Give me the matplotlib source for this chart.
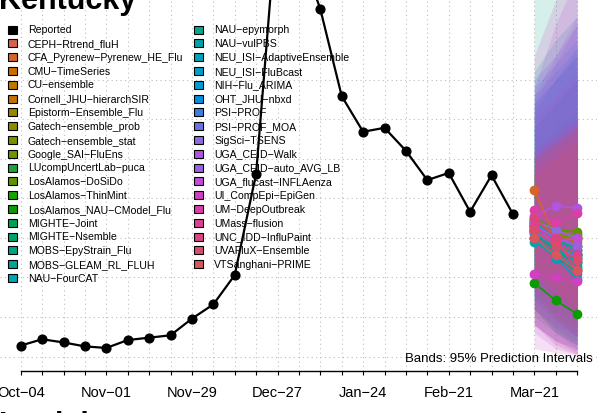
import matplotlib
matplotlib.use("Agg")
import matplotlib.pyplot as plt
import matplotlib.dates as mdates
from matplotlib.patches import Patch
import pandas as pd
import numpy as np

plt.rcParams['font.family'] = ['Liberation Sans', 'DejaVu Sans']

# reported weekly admissions, Kentucky
weeks = pd.date_range("2025-10-04", "2026-03-14", freq="7D")
reported = [14, 22, 18, 13, 11, 21, 24, 27, 48, 66, 103, 231,
            565, 515, 439, 329, 284, 289, 260, 223, 232, 183, 229, 180]

fc_dates = pd.date_range("2026-03-21", periods=3, freq="7D")

models = ["CEPH−Rtrend_fluH", "CFA_Pyrenew−Pyrenew_HE_Flu", "CMU−TimeSeries",
          "CU−ensemble", "Cornell_JHU−hierarchSIR", "Epistorm−Ensemble_Flu",
          "Gatech−ensemble_prob", "Gatech−ensemble_stat", "Google_SAI−FluEns",
          "LUcompUncertLab−puca", "LosAlamos−DoSiDo", "LosAlamos−ThinMint",
          "LosAlamos_NAU−CModel_Flu", "MIGHTE−Joint", "MIGHTE−Nsemble",
          "MOBS−EpyStrain_Flu", "MOBS−GLEAM_RL_FLUH", "NAU−FourCAT",
          "NAU−epymorph", "NAU−vulPBS", "NEU_ISI−AdaptiveEnsemble",
          "NEU_ISI−FluBcast", "NIH−Flu_ARIMA", "OHT_JHU−nbxd", "PSI−PROF",
          "PSI−PROF_MOA", "SigSci−TSENS", "UGA_CEID−Walk", "UGA_CEID−auto_AVG_LB",
          "UGA_flucast−INFLAenza", "UI_CompEpi−EpiGen", "UM−DeepOutbreak",
          "UMass−flusion", "UNC_IDD−InfluPaint", "UVAFluX−Ensemble",
          "VTSanghani−PRIME"]

colors = ["#D9614E", "#D5652A", "#C96E00", "#BE7800", "#C67000", "#9A8600",
          "#8C8C00", "#7A9200", "#6A9600", "#1DA33A", "#5E9600", "#1AA100",
          "#0A9C00", "#00A356", "#00A36A", "#00A484", "#00A597", "#00A5B0",
          "#0AA58A", "#00A4A6", "#00A2B8", "#00A0C4", "#009CD4", "#0090E0",
          "#3A7FE0", "#6A74E0", "#8C6CE0", "#B055E0", "#9A62E0", "#C04CD8",
          "#D040C0", "#D840A8", "#DC4094", "#DC4480", "#DA4C6C", "#D8565C"]

# medians for 1-3 week ahead
fc_median = [[165, 150, 140], [210, 150, 120], [170, 155, 145], [160, 140, 125],
             [172, 160, 150], [158, 140, 128], [165, 155, 148], [170, 160, 152],
             [160, 150, 155], [168, 150, 135], [175, 160, 158], [150, 125, 110],
             [93, 71, 54], [165, 145, 130], [160, 138, 120], [155, 135, 115],
             [150, 130, 105], [145, 128, 112], [170, 150, 135], [162, 145, 128],
             [158, 138, 118], [150, 125, 98], [168, 148, 130], [160, 140, 125],
             [165, 150, 140], [158, 140, 125], [172, 160, 150], [178, 190, 188],
             [166, 150, 140], [160, 145, 150], [105, 100, 95], [185, 170, 181],
             [165, 145, 130], [175, 150, 108], [160, 140, 122], [150, 128, 110]]

# 95% intervals
fc_lower = [[110, 85, 65], [150, 90, 60], [120, 95, 75], [100, 75, 55],
            [115, 90, 70], [105, 80, 60], [95, 70, 55], [100, 75, 60],
            [110, 85, 70], [60, 30, 15], [120, 100, 90], [90, 60, 40],
            [50, 30, 15], [100, 75, 55], [95, 70, 50], [80, 55, 35],
            [70, 45, 25], [60, 35, 20], [40, 20, 10], [90, 65, 45],
            [75, 50, 30], [60, 30, 10], [80, 50, 25], [70, 45, 25],
            [60, 35, 15], [90, 60, 40], [100, 80, 60], [40, 20, 8],
            [30, 10, 3], [40, 20, 5], [10, 5, 2], [60, 40, 25],
            [100, 75, 50], [40, 15, 3], [110, 85, 60], [80, 50, 30]]
fc_upper = [[240, 260, 280], [290, 260, 250], [230, 250, 270], [240, 260, 280],
            [250, 280, 300], [230, 250, 270], [250, 280, 300], [260, 290, 310],
            [230, 260, 290], [290, 320, 350], [240, 260, 280], [230, 240, 250],
            [150, 140, 130], [260, 280, 300], [250, 270, 290], [290, 320, 350],
            [310, 350, 380], [360, 400, 430], [470, 480, 490], [290, 320, 350],
            [310, 350, 390], [320, 350, 380], [340, 370, 400], [330, 360, 390],
            [350, 380, 420], [320, 350, 380], [300, 330, 360], [330, 380, 430],
            [320, 370, 420], [340, 420, 480], [380, 450, 520], [260, 280, 300],
            [240, 260, 280], [250, 270, 290], [230, 250, 270], [250, 270, 290]]

all_weeks = pd.date_range("2025-10-04", "2026-04-04", freq="7D")

fig = plt.figure(figsize=(5.97, 4.13), dpi=100)
ax = fig.add_axes([0, 42.3 / 413, 1, 370.7 / 413])

for lo, hi, col in zip(fc_lower, fc_upper, colors):
    ax.fill_between(fc_dates, lo, hi, color=col, alpha=0.17, lw=0)

ax.plot(weeks, reported, color="black", lw=1.6, marker="o", ms=6.3, zorder=5)

for med, col in zip(fc_median, colors):
    ax.plot(fc_dates, med, color=col, lw=1.2, marker="o", ms=6, zorder=4)

ax.set_xlim(all_weeks[0] - pd.Timedelta(days=6.77), all_weeks[-1] + pd.Timedelta(days=6.5))
ax.set_ylim(-17.7, 450.4)

ax.set_xticks(all_weeks)
ax.set_xticklabels([d.strftime("%b−%d") if i % 4 == 0 else "" for i, d in enumerate(all_weeks)])
ax.set_yticks(np.arange(0, 351, 50))
ax.tick_params(axis="y", length=0, labelleft=False)
ax.tick_params(axis="x", length=3.2, width=0.8, labelsize=10.5, pad=8)
ax.grid(True, ls=(0, (1, 3)), color="#BDBDBD", lw=0.8)
ax.set_axisbelow(True)

for s in ["left", "right", "top"]:
    ax.spines[s].set_visible(False)
ax.spines["bottom"].set_bounds(mdates.date2num(all_weeks[0]), mdates.date2num(all_weeks[-1]))
ax.spines["bottom"].set_linewidth(1.0)

handles = [Patch(facecolor="black", edgecolor="black", lw=0.8, label="Reported")]
for m, c in zip(models, colors):
    handles.append(Patch(facecolor=c, edgecolor="black", lw=0.8, label=m))
fig.legend(handles=handles, loc="upper left", ncol=2, frameon=False,
           bbox_to_anchor=(8 / 597, 1 - 25.3 / 413), borderpad=0, borderaxespad=0,
           fontsize=7.6, handlelength=0.85, handleheight=0.8, handletextpad=1.04,
           columnspacing=1.04, labelspacing=0.36)

fig.text(593 / 597, 1 - 361.7 / 413, "Bands: 95% Prediction Intervals",
         ha="right", va="baseline", fontsize=9.5)

fig.text(-1 / 597, 1 - 9.5 / 413, "Kentucky", fontsize=22, fontweight="bold",
         ha="left", va="baseline")
fig.text(-1 / 597, 1 - 434 / 413, "Louisiana", fontsize=22, fontweight="bold",
         ha="left", va="baseline")

fig.savefig("out.png", dpi=100)
